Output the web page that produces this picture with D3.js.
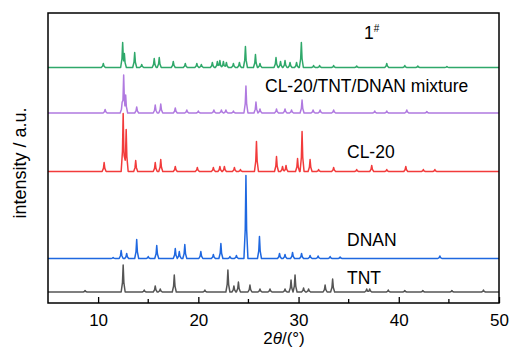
<!DOCTYPE html>
<html>
<head>
<meta charset="utf-8">
<script src="https://cdn.jsdelivr.net/npm/d3@7"></script>
<style>
  body { margin: 0; background: #fff; }
  svg { display: block; font-family: 'Liberation Sans', Arial, sans-serif; }
</style>
</head>
<body>
<svg width="510" height="353"></svg>
<script>
// x axis ticks
const majorTicks = [10, 20, 30, 40, 50]
const minorTicks = [15, 25, 35, 45]

// series names, from bottom to top
const seriesNames = ['TNT', 'DNAN', 'CL-20', 'mixture', '1#']
// vertical offsets of each pattern (a.u.)
const offsets = [11, 44.5, 131.5, 190, 235.5]

// peaks as [2theta, intensity]
const tntPeaks = [
  [8.7, 1.5], [12.5, 27], [14.6, 2], [15.7, 6], [16.2, 3], [17.6, 17],
  [20.65, 2], [22.95, 22], [23.55, 6], [24.0, 10], [25.15, 7], [26.15, 3],
  [27.15, 3], [28.65, 3], [29.25, 12], [29.65, 17], [30.5, 4], [31.0, 3],
  [32.65, 7], [33.4, 13], [36.8, 3], [37.1, 3], [38.95, 2], [40.6, 1.5],
  [42.4, 1.5], [45.3, 1.5], [48.45, 2]
]
const dnanPeaks = [
  [11.5, 1], [12.3, 8], [12.85, 5], [13.85, 19], [15.0, 2], [15.85, 13],
  [17.7, 10], [18.1, 7], [18.65, 14], [20.25, 7], [21.5, 4], [22.25, 15],
  [23.15, 2], [23.8, 3], [24.75, 83], [26.1, 22], [28.1, 5], [28.65, 4],
  [29.4, 6], [30.3, 5], [31.15, 3], [31.95, 2.5], [33.15, 2], [34.15, 1.5],
  [44.1, 2.5]
]
const cl20Peaks = [
  [10.6, 9], [12.5, 58], [12.8, 42], [13.75, 11], [15.7, 9], [16.25, 12],
  [17.7, 5], [19.9, 4], [21.5, 4], [22.15, 5], [22.6, 5], [23.6, 4],
  [24.2, 2], [25.8, 30], [27.8, 15], [28.4, 5], [28.75, 6], [29.9, 13],
  [30.35, 40], [31.15, 12], [32.0, 2], [33.5, 4], [35.8, 2], [37.3, 6],
  [38.8, 2], [40.7, 5], [42.45, 2], [43.6, 2]
]
const mixturePeaks = [
  [10.7, 3.5], [12.4, 11], [12.55, 38], [12.75, 18], [13.85, 6], [15.7, 8],
  [16.25, 9], [17.7, 5], [18.85, 3], [20.0, 2], [21.55, 3], [22.3, 3],
  [22.75, 3], [23.5, 2], [24.75, 27], [25.75, 11], [26.15, 4], [27.8, 4],
  [28.65, 4], [29.3, 3], [30.35, 13], [31.45, 3], [32.15, 3], [33.5, 3],
  [37.6, 2], [38.8, 2], [40.8, 3], [42.8, 1.5]
]
const samplePeaks = [
  [10.52, 4], [12.45, 25], [12.62, 14], [13.65, 15], [14.35, 3], [15.6, 9],
  [16.1, 10], [17.5, 6], [18.7, 4], [19.85, 4], [20.3, 3], [21.4, 5],
  [21.9, 6], [22.15, 7], [22.5, 6], [22.8, 5], [23.5, 4], [24.1, 5],
  [24.7, 21], [25.7, 13], [26.15, 4], [27.75, 10], [28.2, 6], [28.65, 7],
  [29.15, 5], [29.8, 5], [30.28, 25], [31.5, 2], [32.1, 2], [33.5, 2],
  [35.8, 1.5], [38.8, 4], [40.6, 2], [41.9, 1.5], [44.8, 1]
]
const allPeaks = [tntPeaks, dnanPeaks, cl20Peaks, mixturePeaks, samplePeaks]
const colors = ['#555555', '#1f68e0', '#f23b3b', '#b07ae0', '#2fa86a']

// labels next to the patterns
const labels = [
  { text: 'TNT', x: 347, y: 284 },
  { text: 'DNAN', x: 347, y: 246 },
  { text: 'CL-20', x: 347, y: 158 },
  { text: 'CL-20/TNT/DNAN mixture', x: 265, y: 92 }
]

const width = 510
const height = 353
const margin = { top: 13, right: 11, bottom: 50, left: 48 }
const svg = d3.select('svg')

const xScale = d3.scaleLinear()
  .domain([5, 50])
  .range([margin.left, width - margin.right])
const yScale = d3.scaleLinear()
  .domain([0, 290])
  .range([height - margin.bottom, margin.top])

// peak shape: half widths (deg) and relative heights
const shape = [[-0.2, 0], [-0.07, 0.35], [0, 1], [0.07, 0.35], [0.2, 0]]

function profile (peaks) {
  const xs = [5, 50]
  peaks.forEach(p => shape.forEach(s => xs.push(p[0] + s[0])))
  xs.sort((a, b) => a - b)
  const valueAt = x => d3.max(peaks, p => {
    const dx = x - p[0]
    for (let i = 0; i < shape.length - 1; i++) {
      const a = shape[i]
      const b = shape[i + 1]
      if (dx >= a[0] && dx <= b[0]) {
        const t = (dx - a[0]) / (b[0] - a[0])
        return p[1] * (a[1] + t * (b[1] - a[1]))
      }
    }
    return 0
  })
  return xs.filter(x => x >= 5 && x <= 50).map(x => [x, valueAt(x)])
}

const line = d3.line()
  .x(d => xScale(d[0]))
  .y(d => yScale(d[1]))

allPeaks.forEach((peaks, i) => {
  const pts = profile(peaks).map(d => [d[0], d[1] + offsets[i]])
  svg.append('path')
    .datum(pts)
    .attr('class', 'pattern')
    .attr('data-name', seriesNames[i])
    .attr('fill', 'none')
    .attr('stroke', colors[i])
    .attr('stroke-width', 1.5)
    .attr('stroke-linejoin', 'round')
    .attr('d', line)
})

// frame
svg.append('rect')
  .attr('x', xScale(5))
  .attr('y', yScale(290))
  .attr('width', xScale(50) - xScale(5))
  .attr('height', yScale(0) - yScale(290))
  .attr('fill', 'none')
  .attr('stroke', '#000')
  .attr('stroke-width', 1.5)

// x axis, ticks pointing inward
const xAxis = d3.axisBottom(xScale)
  .tickValues(majorTicks)
  .tickSize(-6)
  .tickPadding(11)
  .tickFormat(d3.format('d'))
svg.append('g')
  .attr('id', 'x-axis')
  .attr('transform', `translate(0,${yScale(0)})`)
  .call(xAxis)
  .call(g => g.select('.domain').remove())
  .call(g => g.selectAll('line').attr('stroke-width', 1.3))
  .call(g => g.selectAll('text').attr('font-size', 17).attr('fill', '#000')
    .attr('font-family', "'Liberation Sans', Arial, sans-serif"))

svg.append('g')
  .attr('transform', `translate(0,${yScale(0)})`)
  .selectAll('line')
  .data(minorTicks)
  .enter()
  .append('line')
  .attr('x1', d => xScale(d))
  .attr('x2', d => xScale(d))
  .attr('y1', 0)
  .attr('y2', -4)
  .attr('stroke', '#000')
  .attr('stroke-width', 1.3)

// axis titles
const xTitle = svg.append('text')
  .attr('x', 284)
  .attr('y', 344)
  .attr('text-anchor', 'middle')
  .attr('font-size', 17)
xTitle.append('tspan').text('2')
xTitle.append('tspan').attr('font-style', 'italic').text('θ')
xTitle.append('tspan').text('/(°)')

svg.append('text')
  .attr('transform', 'translate(26,163) rotate(-90)')
  .attr('text-anchor', 'middle')
  .attr('font-size', 18)
  .text('intensity / a.u.')

// series labels
svg.selectAll('.label')
  .data(labels)
  .enter()
  .append('text')
  .attr('class', 'label')
  .attr('x', d => d.x)
  .attr('y', d => d.y)
  .attr('font-size', 17.5)
  .text(d => d.text)

const sampleLabel = svg.append('text')
  .attr('x', 364)
  .attr('y', 39)
  .attr('font-size', 17.5)
sampleLabel.append('tspan').text('1')
sampleLabel.append('tspan')
  .attr('font-size', 10)
  .attr('dy', -7)
  .text('#')
</script>
</body>
</html>
